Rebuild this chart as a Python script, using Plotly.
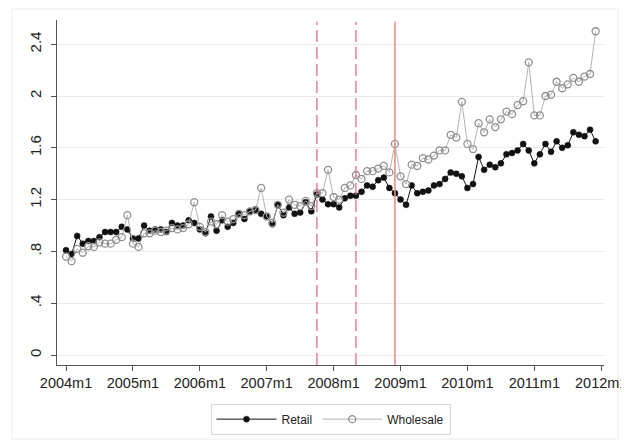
import plotly.graph_objects as go

# Monthly series, 2004m1 .. 2011m12 (month index 0..95)
start_year = 2004
n_months = 96
month_index = list(range(n_months))

retail = [0.81, 0.78, 0.92, 0.86, 0.88, 0.88, 0.91, 0.95, 0.95, 0.95, 0.99, 0.97,
          0.90, 0.90, 1.00, 0.96, 0.97, 0.97, 0.95, 1.02, 1.00, 1.00, 1.04, 1.02,
          0.97, 0.94, 1.07, 0.96, 1.04, 0.99, 1.02, 1.09, 1.05, 1.11, 1.12, 1.09,
          1.07, 1.01, 1.16, 1.08, 1.14, 1.09, 1.10, 1.18, 1.11, 1.24, 1.20, 1.165,
          1.165, 1.14, 1.21, 1.23, 1.23, 1.26, 1.31, 1.30, 1.35, 1.37, 1.29, 1.25,
          1.20, 1.16, 1.31, 1.25, 1.26, 1.27, 1.31, 1.32, 1.36, 1.41, 1.40, 1.38,
          1.29, 1.32, 1.53, 1.43, 1.47, 1.45, 1.48, 1.55, 1.56, 1.58, 1.63, 1.58,
          1.48, 1.55, 1.63, 1.57, 1.65, 1.60, 1.62, 1.72, 1.70, 1.69, 1.74, 1.65]

wholesale = [0.76, 0.725, 0.82, 0.79, 0.84, 0.835, 0.87, 0.86, 0.86, 0.89, 0.91, 1.08,
             0.86, 0.835, 0.94, 0.94, 0.96, 0.95, 0.96, 0.98, 0.97, 0.98, 1.01, 1.18,
             0.99, 0.95, 1.03, 1.01, 1.08, 1.03, 1.05, 1.09, 1.08, 1.11, 1.12, 1.29,
             1.07, 1.02, 1.16, 1.10, 1.20, 1.16, 1.15, 1.19, 1.15, 1.25, 1.25, 1.43,
             1.22, 1.20, 1.29, 1.31, 1.39, 1.36, 1.42, 1.42, 1.44, 1.46, 1.41, 1.63,
             1.38, 1.32, 1.47, 1.46, 1.52, 1.51, 1.54, 1.58, 1.58, 1.70, 1.68, 1.955,
             1.63, 1.59, 1.79, 1.72, 1.82, 1.76, 1.82, 1.88, 1.86, 1.93, 1.96, 2.26,
             1.85, 1.85, 2.00, 2.01, 2.11, 2.06, 2.09, 2.14, 2.11, 2.15, 2.17, 2.50]

x_tick_vals = [0, 12, 24, 36, 48, 60, 72, 84, 96]
x_tick_text = ["2004m1", "2005m1", "2006m1", "2007m1", "2008m1",
               "2009m1", "2010m1", "2011m1", "2012m1"]
y_tick_vals = [0, 0.4, 0.8, 1.2, 1.6, 2.0, 2.4]
y_tick_text = ["0", ".4", ".8", "1.2", "1.6", "2", "2.4"]

dashed_events = [45, 52]   # 2007m10, 2008m5
solid_events = [59]        # 2008m12

FONT = "Arial, Liberation Sans, sans-serif"

fig = go.Figure()
fig.add_trace(go.Scatter(
    x=month_index, y=retail, name="Retail", mode="lines+markers",
    line=dict(color="#111111", width=1),
    marker=dict(symbol="circle", size=6, color="#111111",
                line=dict(color="#111111", width=0.5)),
))
fig.add_trace(go.Scatter(
    x=month_index, y=wholesale, name="Wholesale", mode="lines+markers",
    line=dict(color="#b4b4b4", width=1),
    marker=dict(symbol="circle-open", size=7, color="#8f8f8f",
                line=dict(color="#8f8f8f", width=1.3)),
))

shapes = []
for m in dashed_events:
    shapes.append(dict(type="line", xref="x", yref="y domain", x0=m, x1=m, y0=0, y1=0.995,
                       line=dict(color="#e0707e", width=1.3, dash="12px,5px")))
for m in solid_events:
    shapes.append(dict(type="line", xref="x", yref="y domain", x0=m, x1=m, y0=0, y1=0.995,
                       line=dict(color="#f08a8e", width=1.6)))
# faint outer frame
shapes.append(dict(type="rect", xref="paper", yref="paper", x0=-0.082, x1=1.0256,
                   y0=-0.215, y1=1.032, line=dict(color="#ececec", width=1),
                   layer="below"))

# the page body adds an 8px offset, so the figure is smaller than the window
fig.update_layout(
    width=621, height=432,
    margin=dict(l=49, r=25, t=12, b=75, autoexpand=False),
    paper_bgcolor="white", plot_bgcolor="white",
    font=dict(family=FONT, size=15, color="#222222"),
    showlegend=True,
    legend=dict(orientation="h", x=0.5, xanchor="center", y=-0.112, yanchor="top",
                bordercolor="#d6d6d6", borderwidth=1, bgcolor="white",
                font=dict(family=FONT, size=12, color="#222222"),
                itemwidth=60, tracegroupgap=0),
    shapes=shapes,
    xaxis=dict(range=[-1.62, 96.5], tickmode="array", tickvals=x_tick_vals,
               ticktext=x_tick_text, showgrid=False, zeroline=False, automargin=False,
               ticklabeloverflow="allow",
               showline=True, linecolor="#555555", linewidth=1,
               ticks="outside", ticklen=5, tickcolor="#555555",
               tickfont=dict(family=FONT, size=14.5, color="#222222")),
    yaxis=dict(range=[-0.077, 2.587], tickmode="array", tickvals=y_tick_vals,
               ticktext=y_tick_text, showgrid=True, gridcolor="#ebebeb", gridwidth=1,
               zeroline=False, showline=True, linecolor="#555555", linewidth=1,
               automargin=False, ticklabeloverflow="allow",
               ticks="outside", ticklen=5, tickcolor="#555555", tickangle=-90,
               ticklabelstandoff=4,
               tickfont=dict(family=FONT, size=15, color="#222222")),
)

fig.write_html("out.html")
